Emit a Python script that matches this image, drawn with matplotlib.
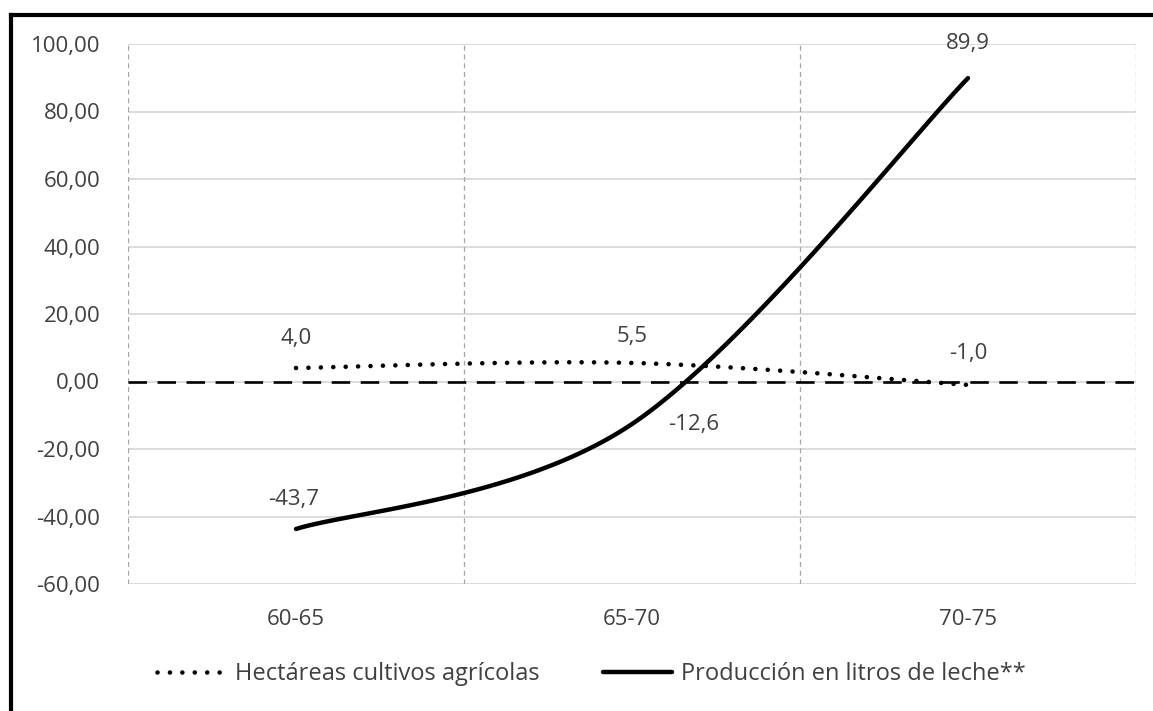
import numpy as np
import matplotlib
matplotlib.use("Agg")
import matplotlib.pyplot as plt
from matplotlib.lines import Line2D

plt.rcParams['font.family'] = ['Open Sans', 'DejaVu Sans']

# data
periods = ['60-65', '65-70', '70-75']
hectareas = [4.0, 5.5, -1.0]
produccion = [-43.7, -12.6, 89.9]
y_ticks = list(range(-60, 101, 20))

TEXT = '#404040'


def smooth(xs, ys, n=60):
    """Excel-like smoothed line (Catmull-Rom as cubic Bezier)."""
    pts = np.column_stack([xs, ys]).astype(float)
    ext = np.vstack([pts[0], pts, pts[-1]])
    out = []
    for i in range(len(pts) - 1):
        p0, p1 = ext[i + 1], ext[i + 2]
        c1 = p0 + (ext[i + 2] - ext[i]) / 6.0
        c2 = p1 - (ext[i + 3] - ext[i + 1]) / 6.0
        t = np.linspace(0, 1, n)[:, None]
        seg = ((1 - t) ** 3) * p0 + 3 * ((1 - t) ** 2) * t * c1 + 3 * (1 - t) * t ** 2 * c2 + t ** 3 * p1
        out.append(seg if i == 0 else seg[1:])
    seg = np.vstack(out)
    return seg[:, 0], seg[:, 1]


fig = plt.figure(figsize=(11.53, 7.11), dpi=100)
ax = fig.add_axes([128 / 1153, 1 - 584 / 711, (1136 - 128) / 1153, (584 - 44) / 711])

x = np.arange(len(periods))

# grid
for yv in y_ticks:
    ax.axhline(yv, color='#d9d9d9', lw=1.3, zorder=0)
for xv in np.arange(-0.5, len(periods), 1.0):
    ax.axvline(xv, color='#a6a6a6', lw=0.9, linestyle=(0, (4, 3)), zorder=0)
ax.axhline(0, color='black', lw=1.9, linestyle=(0, (7, 4)), zorder=1)

hx, hy = smooth(x, hectareas)
ax.plot(hx, hy, color='black', lw=3.3, linestyle=(0, (0.01, 2.7)),
        dash_capstyle='round', zorder=3, label='Hectáreas cultivos agrícolas')
px, py = smooth(x, produccion)
ax.plot(px, py, color='black', lw=3.2, solid_capstyle='round',
        zorder=3, label='Producción en litros de leche**')

# data labels (offsets in points)
h_off = [(0, 21), (0, 19), (0, 22.5)]
p_off = [(-1.5, 21), (44.5, 0), (0, 25)]
for xi, v, off in zip(x, hectareas, h_off):
    ax.annotate(f'{v:.1f}'.replace('.', ','), (xi, v), xytext=off, textcoords='offset points',
                ha='center', va='center', fontsize=16, color=TEXT)
for xi, v, off in zip(x, produccion, p_off):
    ax.annotate(f'{v:.1f}'.replace('.', ','), (xi, v), xytext=off, textcoords='offset points',
                ha='center', va='center', fontsize=16, color=TEXT)

ax.set_xlim(-0.5, len(periods) - 0.5)
ax.set_ylim(-60, 100)
ax.set_xticks(x)
ax.set_xticklabels(periods)
ax.set_yticks(y_ticks)
ax.set_yticklabels([f'{v:.2f}'.replace('.', ',') for v in y_ticks])
ax.tick_params(axis='both', length=0, labelsize=16, labelcolor=TEXT)
ax.tick_params(axis='y', pad=20)
ax.tick_params(axis='x', pad=18)
for s in ax.spines.values():
    s.set_visible(False)

fig.legend(loc='center', bbox_to_anchor=(0.513, 1 - 674 / 711), ncol=2, frameon=False,
           fontsize=17, handlelength=2.9, columnspacing=2.7, handletextpad=0.4,
           labelcolor=TEXT)

# outer frame (left and top edges visible)
fig.add_artist(Line2D([11 / 1153, 11 / 1153], [0, 1 - 15 / 711], color='black', lw=3,
                      transform=fig.transFigure))
fig.add_artist(Line2D([11 / 1153, 1], [1 - 15 / 711, 1 - 15 / 711], color='black', lw=3,
                      transform=fig.transFigure))

fig.savefig('out.png', dpi=100)
